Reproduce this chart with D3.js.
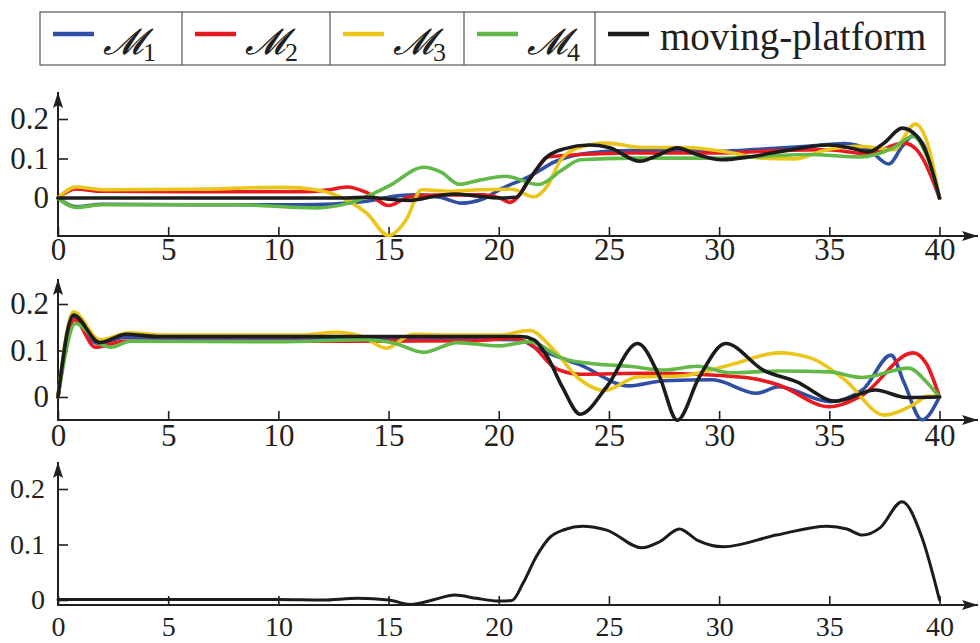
<!DOCTYPE html>
<html><head><meta charset="utf-8">
<script src="https://cdn.jsdelivr.net/npm/d3@7"></script>
<style>
body{margin:0;background:#fff;}
svg{display:block;}
</style></head>
<body><svg id="c" width="980" height="643"></svg>
<script>
// ---------- data ----------
const seriesNames = ["𝓜1","𝓜2","𝓜3","𝓜4","moving-platform"];
const seriesColors = ["#2e4fa3","#e8191f","#ecc51a","#62b948","#1c1c1c"];
const xTicks = [0,5,10,15,20,25,30,35,40];
const yTicks = [0,0.1,0.2];
const yTickLabels = ["0","0.1","0.2"];

// panel 1
const m1P1 = [[0,0],[0.8,-0.022],[2,-0.016],[6,-0.017],[11,-0.017],[12.5,-0.015],[14,-0.008],[15.5,0.006],[16.3,0.008],[17.4,0.001],[18.3,-0.013],[19.3,-0.002],[20,0.02],[21.4,0.055],[22.6,0.093],[24.1,0.114],[26,0.12],[28,0.12],[30,0.118],[32,0.124],[34,0.131],[35.7,0.138],[36.8,0.122],[37.7,0.086],[38.3,0.13],[38.8,0.158],[39.4,0.12],[40,0]];
const m2P1 = [[0,0],[0.8,0.023],[2,0.017],[6,0.016],[11,0.016],[12.2,0.02],[13.1,0.028],[14,0.014],[15,-0.019],[16,0.004],[17.5,0.008],[19.3,0.008],[20,0.001],[20.5,-0.011],[21.6,0.063],[22.2,0.104],[23.7,0.11],[26,0.114],[30,0.114],[32.7,0.12],[34.9,0.122],[36.7,0.112],[38.4,0.139],[39,0.12],[40,0]];
const m3P1 = [[0,0],[0.8,0.028],[2,0.021],[6,0.022],[10.2,0.027],[11.7,0.021],[13.2,-0.008],[14,-0.038],[15,-0.095],[15.8,-0.055],[16.5,0.021],[17.8,0.017],[19.1,0.021],[20.6,0.022],[21.6,0.003],[22.2,0.03],[22.8,0.095],[23.5,0.125],[24.9,0.139],[26.5,0.128],[28.5,0.128],[30.5,0.115],[31.9,0.101],[33.4,0.099],[34.9,0.122],[36.4,0.131],[37.9,0.122],[38.9,0.187],[39.5,0.13],[40,0]];
const m4P1 = [[0,0],[0.8,-0.024],[2,-0.017],[8,-0.017],[11.7,-0.025],[13.2,-0.013],[15,0.03],[16.6,0.078],[17.4,0.065],[18.2,0.035],[19.1,0.045],[20.3,0.055],[21.8,0.034],[22.9,0.072],[23.7,0.097],[26,0.101],[30,0.101],[34.1,0.11],[36.4,0.104],[37.9,0.127],[38.8,0.156],[39.4,0.11],[40,0]];
const platP1 = [[0,0],[13,0],[14,0.002],[15,-0.003],[16,-0.006],[17,0.003],[18,0.01],[19,0.005],[20,0],[20.8,0.002],[21.3,0.04],[22.2,0.105],[23,0.125],[24.1,0.134],[25,0.128],[26.4,0.093],[27.3,0.11],[28.1,0.127],[29,0.11],[30.1,0.097],[31.5,0.105],[33,0.12],[35,0.134],[36,0.126],[36.8,0.117],[37.5,0.14],[38.3,0.177],[39,0.155],[39.5,0.1],[40,0]];

// panel 2
const m1P2 = [[0,0],[0.7,0.172],[1.8,0.115],[3,0.128],[6,0.125],[20,0.124],[21,0.122],[21.7,0.105],[23.7,0.069],[25.9,0.024],[27.5,0.035],[29.7,0.037],[31.7,0.008],[32.7,0.022],[35,-0.01],[36.5,0.015],[37.8,0.09],[38.4,0.03],[39.2,-0.049],[40,0]];
const m2P2 = [[0,0],[0.75,0.166],[1.7,0.107],[3,0.12],[10,0.12],[19,0.121],[20.5,0.126],[21.4,0.115],[22.6,0.061],[23.7,0.049],[26.7,0.051],[31.2,0.042],[32.7,0.026],[35,-0.021],[36.5,0.004],[38.8,0.095],[39.4,0.072],[40,0]];
const m3P2 = [[0,0],[0.7,0.183],[1.9,0.123],[3.2,0.138],[5,0.133],[11,0.133],[12.6,0.139],[13.8,0.13],[14.9,0.105],[16.1,0.135],[18,0.133],[20,0.133],[21.4,0.143],[22.5,0.101],[23.7,0.037],[24.8,0.014],[26.3,0.043],[28.2,0.045],[30.5,0.069],[32.7,0.095],[34.2,0.083],[35.7,0.037],[37.5,-0.039],[38.8,-0.017],[39.5,0.002],[40,0]];
const m4P2 = [[0,0],[0.8,0.158],[1.9,0.114],[2.4,0.107],[3.3,0.12],[10,0.119],[14,0.123],[15.3,0.115],[16.6,0.096],[18.1,0.117],[20,0.11],[21.4,0.119],[22.9,0.083],[24.4,0.071],[25.9,0.066],[27.5,0.058],[29,0.066],[30.5,0.052],[32.7,0.056],[35,0.054],[36.5,0.042],[38.6,0.062],[39.4,0.033],[40,0]];
const platP2 = [[0,0],[0.7,0.176],[1.9,0.117],[3.1,0.135],[4.5,0.13],[21,0.13],[21.6,0.123],[22.2,0.087],[22.9,0.02],[23.7,-0.037],[24.9,0.022],[26.3,0.115],[27.3,0.043],[28.1,-0.05],[29.1,0.043],[30.3,0.115],[32,0.058],[33.5,0.033],[35.3,-0.009],[37.1,0.015],[38.5,-0.001],[40,0]];

// panel 3
const platP3 = [[0,0.001],[10,0.001],[12,0],[13.6,0.003],[15,0],[16,-0.008],[17,0],[18,0.009],[19,0.003],[20,-0.002],[20.6,-0.001],[21.1,0.03],[21.7,0.078],[22.3,0.112],[23,0.127],[23.8,0.133],[24.9,0.126],[26.5,0.094],[27.3,0.105],[28.2,0.128],[29,0.108],[30.2,0.096],[32.6,0.117],[34.9,0.133],[35.8,0.128],[36.5,0.117],[37.3,0.13],[38.3,0.177],[39.2,0.113],[40,0]];

// ---------- drawing ----------
const FONT = 'Liberation Serif, Tinos, Noto Serif, DejaVu Serif, FreeSerif, Nimbus Roman, Times New Roman, Times, serif';
const svg = d3.select("#c");
const defs = svg.append("defs");
defs.append("marker").attr("id","arr").attr("viewBox","0 0 16 10")
  .attr("refX",16).attr("refY",5).attr("markerWidth",16).attr("markerHeight",10)
  .attr("markerUnits","userSpaceOnUse").attr("orient","auto")
  .append("path").attr("d","M0,0 L16,5 L0,10 L3,5 Z").attr("fill","#231f20");

const x = d3.scaleLinear().domain([0,40]).range([58,939.5]);

const panels = [
  {series:[m1P1,m2P1,m3P1,m4P1,platP1], colors:[0,1,2,3,4], y0:198, y2:119, axisY:236, top:92, fs:31, xpad:2, ypad:9, lw:3.6},
  {series:[m1P2,m2P2,m3P2,m4P2,platP2], colors:[0,1,2,3,4], y0:397, y2:304, axisY:420, top:279, fs:31, xpad:4, ypad:9, lw:3.6},
  {series:[platP3], colors:[4], y0:600, y2:489, axisY:605, top:462, fs:28, xpad:11, ypad:13, lw:3}
];

panels.forEach(p => {
  const y = d3.scaleLinear().domain([0,0.2]).range([p.y0,p.y2]);
  const g = svg.append("g");
  const xa = g.append("g").attr("transform",`translate(0,${p.axisY})`)
    .call(d3.axisBottom(x).tickValues(xTicks).tickFormat(d3.format("d")).tickSizeInner(-9).tickSizeOuter(0).tickPadding(p.xpad));
  xa.attr("font-family",FONT).attr("font-size",p.fs);
  xa.select(".domain").remove();
  xa.selectAll("line").attr("stroke","#231f20").attr("stroke-width",1.6);
  xa.selectAll("text").attr("fill","#231f20");
  const ya = g.append("g").attr("transform","translate(58,0)")
    .call(d3.axisLeft(y).tickValues(yTicks).tickFormat((d,i)=>yTickLabels[i]).tickSizeInner(-10).tickSizeOuter(0).tickPadding(p.ypad));
  ya.attr("font-family",FONT).attr("font-size",p.fs);
  ya.select(".domain").remove();
  ya.selectAll("line").attr("stroke","#231f20").attr("stroke-width",1.6);
  ya.selectAll("text").attr("fill","#231f20");
  g.append("line").attr("x1",57).attr("x2",978).attr("y1",p.axisY).attr("y2",p.axisY)
    .attr("stroke","#231f20").attr("stroke-width",2).attr("marker-end","url(#arr)");
  g.append("line").attr("x1",58).attr("x2",58).attr("y1",p.axisY+1).attr("y2",p.top)
    .attr("stroke","#231f20").attr("stroke-width",2).attr("marker-end","url(#arr)");
  const line = d3.line().x(d=>x(d[0])).y(d=>y(d[1])).curve(d3.curveMonotoneX);
  p.series.forEach((s,i) => {
    g.append("path").datum(s).attr("d",line).attr("fill","none")
      .attr("stroke",seriesColors[p.colors[i]]).attr("stroke-width",p.lw)
      .attr("stroke-linejoin","round").attr("stroke-linecap","round");
  });
});

// ---------- legend ----------
const leg = svg.append("g");
const cellEdges = [40,182,330,464,595,945];
leg.append("rect").attr("x",40).attr("y",12).attr("width",905).attr("height",53)
  .attr("fill","#fff").attr("stroke","#555").attr("stroke-width",1.2);
cellEdges.slice(1,5).forEach(e => leg.append("line").attr("x1",e).attr("x2",e).attr("y1",12).attr("y2",65)
  .attr("stroke","#555").attr("stroke-width",1.2));
seriesNames.forEach((n,i) => {
  const x0 = cellEdges[i] + 13;
  leg.append("line").attr("x1",x0).attr("x2",x0+41).attr("y1",34).attr("y2",34)
    .attr("stroke",seriesColors[i]).attr("stroke-width",4.5);
  if (i < 4) {
    const chars = Array.from(n);
    const t = leg.append("text").attr("x",x0+50).attr("y",54).attr("fill","#231f20");
    t.append("tspan").attr("font-family","DejaVu Sans, Noto Sans, sans-serif").attr("font-size",36).attr("font-style","italic").text(chars[0]);
    t.append("tspan").attr("font-family",FONT).attr("font-size",26).attr("dy",7).text(chars.slice(1).join(""));
  } else {
    leg.append("text").attr("x",x0+52).attr("y",50).attr("fill","#231f20")
      .attr("font-family",FONT).attr("font-size",39).text(n);
  }
});
</script>
</body></html>
